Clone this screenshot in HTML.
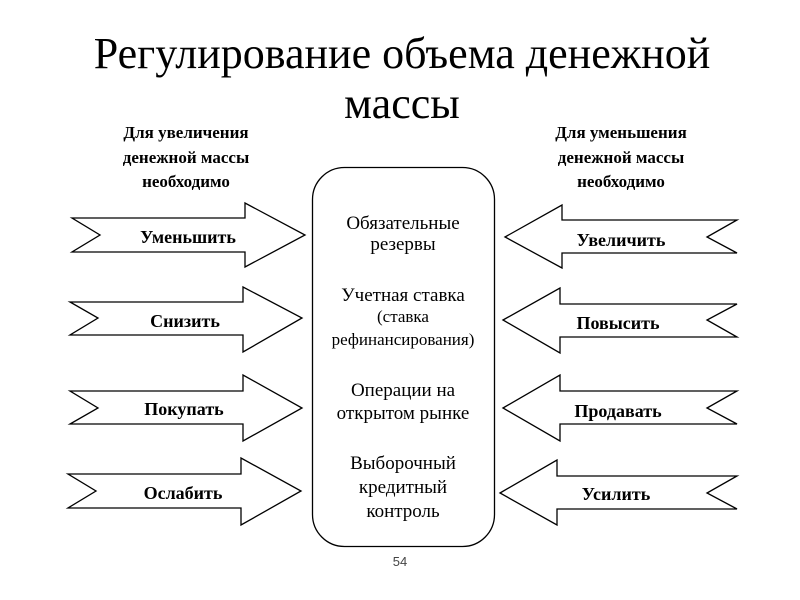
<!DOCTYPE html>
<html><head><meta charset="utf-8"><style>
html,body{margin:0;padding:0;background:#fff;}
svg{display:block}
</style></head><body>
<svg width="800" height="600" viewBox="0 0 800 600" xmlns="http://www.w3.org/2000/svg" font-family="Liberation Serif, serif">
<text x="402" y="68" font-size="44" text-anchor="middle">Регулирование объема денежной</text>
<text x="402" y="118" font-size="44" text-anchor="middle">массы</text>
<g font-size="17" font-weight="bold" text-anchor="middle">
<text x="186" y="138">Для увеличения</text>
<text x="186" y="163">денежной массы</text>
<text x="186" y="187">необходимо</text>
<text x="621" y="138">Для уменьшения</text>
<text x="621" y="163">денежной массы</text>
<text x="621" y="187">необходимо</text>
</g>
<rect x="312.5" y="167.5" width="182" height="379" rx="32" ry="32" fill="none" stroke="#000" stroke-width="1.3"/>
<g fill="#fff" stroke="#000" stroke-width="1.3">
<polygon points="72,218 245,218 245,203 305,235 245,267 245,252 72,252 100,235"/>
<polygon points="70,302 243,302 243,287 302,318 243,352 243,335 70,335 98,318"/>
<polygon points="70,391 243,391 243,375 302,408 243,441 243,424 70,424 98,408"/>
<polygon points="68,474 241,474 241,458 301,491 241,525 241,508 68,508 96,491"/>
<polygon points="505,237 562,205 562,220 737,220 707,237 737,253 562,253 562,268"/>
<polygon points="503,320 560,288 560,304 737,304 707,320 737,337 560,337 560,353"/>
<polygon points="503,408 560,375 560,391 737,391 707,408 737,424 560,424 560,441"/>
<polygon points="500,493 557,460 557,476 737,476 707,493 737,509 557,509 557,525"/>
</g>
<g font-size="18" font-weight="bold" text-anchor="middle">
<text x="188" y="243">Уменьшить</text>
<text x="185" y="327">Снизить</text>
<text x="184" y="415">Покупать</text>
<text x="183" y="499">Ослабить</text>
<text x="621" y="246">Увеличить</text>
<text x="618" y="329">Повысить</text>
<text x="618" y="417">Продавать</text>
<text x="616" y="500">Усилить</text>
</g>
<g font-size="19" text-anchor="middle">
<text x="403" y="229">Обязательные</text>
<text x="403" y="250">резервы</text>
<text x="403" y="301">Учетная ставка</text>
<text x="403" y="322" font-size="17">(ставка</text>
<text x="403" y="345" font-size="17">рефинансирования)</text>
<text x="403" y="396">Операции на</text>
<text x="403" y="419">открытом рынке</text>
<text x="403" y="469">Выборочный</text>
<text x="403" y="493">кредитный</text>
<text x="403" y="517">контроль</text>
</g>
<text x="400" y="566" font-size="13" font-family="Liberation Sans, sans-serif" fill="#444" text-anchor="middle">54</text>
</svg>
</body></html>
